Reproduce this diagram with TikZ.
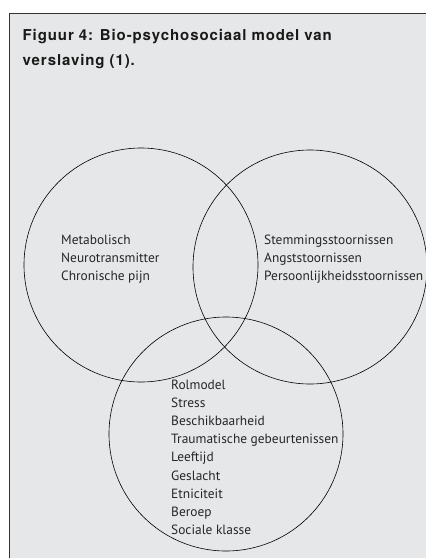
\documentclass[tikz,border=0pt]{standalone}
\usepackage{fontspec}
\setmainfont{PT Sans}
\newfontfamily\titlefont[LetterSpace=6]{TeX Gyre Heros}
\definecolor{bg}{HTML}{E6E7E8}
\definecolor{frame}{HTML}{333333}
\begin{document}
\begin{tikzpicture}[x=1pt,y=-1pt,
  venn/.style={draw=black, line width=0.6pt, circle, minimum size=234pt, inner sep=0pt},
  lbl/.style={anchor=base west, align=left, inner sep=0pt, font=\fontsize{13.4}{18.2}\selectfont, text=black!85},
  ttl/.style={anchor=base west, align=left, inner sep=0pt, font=\titlefont\bfseries\fontsize{15}{24.3}\selectfont, text=black!90}]
\useasboundingbox (0,0) rectangle (426,558);
\fill[bg] (9.5,13.3) rectangle (430,562);
\draw[frame, line width=1.6pt] (9.5,562) -- (9.5,13.3) -- (430,13.3);
\node[ttl] (title) at (22.5,65) {Figuur 4: Bio-psychosociaal model van\\verslaving (1).};
\node[venn] (bio) at (141,265) {};
\node[venn] (psy) at (310,267) {};
\node[venn] (soc) at (226,434) {};
\node[lbl] (biotxt) at (61,280.4) {Metabolisch\\Neurotransmitter\\Chronische pijn};
\node[lbl] (psytxt) at (264,280.4) {Stemmingsstoornissen\\Angststoornissen\\Persoonlijkheidsstoornissen};
\node[lbl] (soctxt) at (171,534.6) {Rolmodel\\Stress\\Beschikbaarheid\\Traumatische gebeurtenissen\\Leeftijd\\Geslacht\\Etniciteit\\Beroep\\Sociale klasse};
\end{tikzpicture}
\end{document}
